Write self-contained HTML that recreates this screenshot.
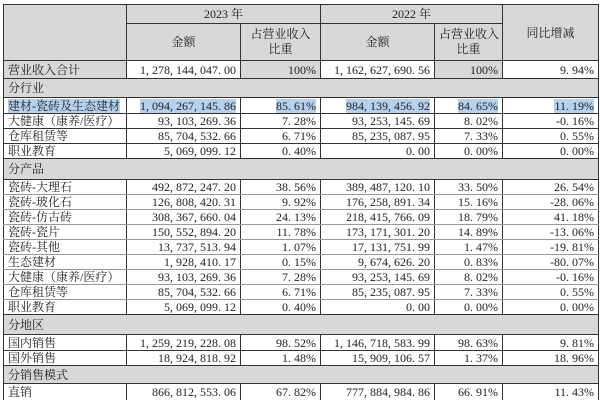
<!DOCTYPE html>
<html><head><meta charset="utf-8"><style>
html,body{margin:0;padding:0;background:#fff;width:600px;height:410px;overflow:hidden}
table{position:absolute;left:3px;top:4px;border-collapse:collapse;table-layout:fixed;width:595px;
font-family:"Liberation Serif","Noto Serif CJK SC",serif;font-size:12px;color:#222}
td{border:1px solid #333;padding:0 4px;white-space:nowrap;overflow:hidden;line-height:12px}
.g{background:#d8d8d8}
.r{text-align:right}
.c{text-align:center}
.s td{background:#d8d8d8}
.hl{background:#b5d1ee}
.p td{border-top-color:#999;border-bottom-color:#999}
.last td{border-bottom:none}
</style></head><body>
<table>
<colgroup><col style="width:123px"><col style="width:114px"><col style="width:80px"><col style="width:114px"><col style="width:68px"><col style="width:96px"></colgroup>
<tr style="height:19px"><td class="g" rowspan="2"></td><td class="g c" colspan="2">2023 年</td><td class="g c" colspan="2">2022 年</td><td class="g c" rowspan="2" style="vertical-align:middle">同比增减</td></tr>
<tr style="height:37px"><td class="g c">金额</td><td class="g c" style="line-height:15px">占营业收入<br>比重</td><td class="g c">金额</td><td class="g c" style="line-height:15px">占营业收入<br>比重</td></tr>
<tr style="height:18px"><td class="g">营业收入合计</td><td class="r">1, 278, 144, 047. 00</td><td class="g r">100%</td><td class="r">1, 162, 627, 690. 56</td><td class="g r">100%</td><td class="r">9. 94%</td></tr>
<tr class="s" style="height:19px"><td colspan="6">分行业</td></tr>
<tr style="height:16px"><td><span class="hl">建材-瓷砖及生态建材</span></td><td class="r"><span class="hl">1, 094, 267, 145. 86</span></td><td class="r"><span class="hl">85. 61%</span></td><td class="r"><span class="hl">984, 139, 456. 92</span></td><td class="r"><span class="hl">84. 65%</span></td><td class="r"><span class="hl">11. 19%</span></td></tr>
<tr style="height:15px"><td>大健康（康养/医疗）</td><td class="r">93, 103, 269. 36</td><td class="r">7. 28%</td><td class="r">93, 253, 145. 69</td><td class="r">8. 02%</td><td class="r">-0. 16%</td></tr>
<tr style="height:15px"><td>仓库租赁等</td><td class="r">85, 704, 532. 66</td><td class="r">6. 71%</td><td class="r">85, 235, 087. 95</td><td class="r">7. 33%</td><td class="r">0. 55%</td></tr>
<tr style="height:15px"><td>职业教育</td><td class="r">5, 069, 099. 12</td><td class="r">0. 40%</td><td class="r">0. 00</td><td class="r">0. 00%</td><td class="r">0. 00%</td></tr>
<tr class="s" style="height:21px"><td colspan="6">分产品</td></tr>
<tr class="p" style="height:15px"><td>瓷砖-大理石</td><td class="r">492, 872, 247. 20</td><td class="r">38. 56%</td><td class="r">389, 487, 120. 10</td><td class="r">33. 50%</td><td class="r">26. 54%</td></tr>
<tr class="p" style="height:15px"><td>瓷砖-玻化石</td><td class="r">126, 808, 420. 31</td><td class="r">9. 92%</td><td class="r">176, 258, 891. 34</td><td class="r">15. 16%</td><td class="r">-28. 06%</td></tr>
<tr class="p" style="height:15px"><td>瓷砖-仿古砖</td><td class="r">308, 367, 660. 04</td><td class="r">24. 13%</td><td class="r">218, 415, 766. 09</td><td class="r">18. 79%</td><td class="r">41. 18%</td></tr>
<tr class="p" style="height:15px"><td>瓷砖-瓷片</td><td class="r">150, 552, 894. 20</td><td class="r">11. 78%</td><td class="r">173, 171, 301. 20</td><td class="r">14. 89%</td><td class="r">-13. 06%</td></tr>
<tr class="p" style="height:15px"><td>瓷砖-其他</td><td class="r">13, 737, 513. 94</td><td class="r">1. 07%</td><td class="r">17, 131, 751. 99</td><td class="r">1. 47%</td><td class="r">-19. 81%</td></tr>
<tr class="p" style="height:15px"><td>生态建材</td><td class="r">1, 928, 410. 17</td><td class="r">0. 15%</td><td class="r">9, 674, 626. 20</td><td class="r">0. 83%</td><td class="r">-80. 07%</td></tr>
<tr class="p" style="height:15px"><td>大健康（康养/医疗）</td><td class="r">93, 103, 269. 36</td><td class="r">7. 28%</td><td class="r">93, 253, 145. 69</td><td class="r">8. 02%</td><td class="r">-0. 16%</td></tr>
<tr class="p" style="height:15px"><td>仓库租赁等</td><td class="r">85, 704, 532. 66</td><td class="r">6. 71%</td><td class="r">85, 235, 087. 95</td><td class="r">7. 33%</td><td class="r">0. 55%</td></tr>
<tr style="height:15px"><td>职业教育</td><td class="r">5, 069, 099. 12</td><td class="r">0. 40%</td><td class="r">0. 00</td><td class="r">0. 00%</td><td class="r">0. 00%</td></tr>
<tr class="s" style="height:20px"><td colspan="6">分地区</td></tr>
<tr style="height:16px"><td>国内销售</td><td class="r">1, 259, 219, 228. 08</td><td class="r">98. 52%</td><td class="r">1, 146, 718, 583. 99</td><td class="r">98. 63%</td><td class="r">9. 81%</td></tr>
<tr style="height:15px"><td>国外销售</td><td class="r">18, 924, 818. 92</td><td class="r">1. 48%</td><td class="r">15, 909, 106. 57</td><td class="r">1. 37%</td><td class="r">18. 96%</td></tr>
<tr class="s" style="height:18px"><td colspan="6">分销售模式</td></tr>
<tr class="last" style="height:16px"><td>直销</td><td class="r">866, 812, 553. 06</td><td class="r">67. 82%</td><td class="r">777, 884, 984. 86</td><td class="r">66. 91%</td><td class="r">11. 43%</td></tr>
</table>
</body></html>
